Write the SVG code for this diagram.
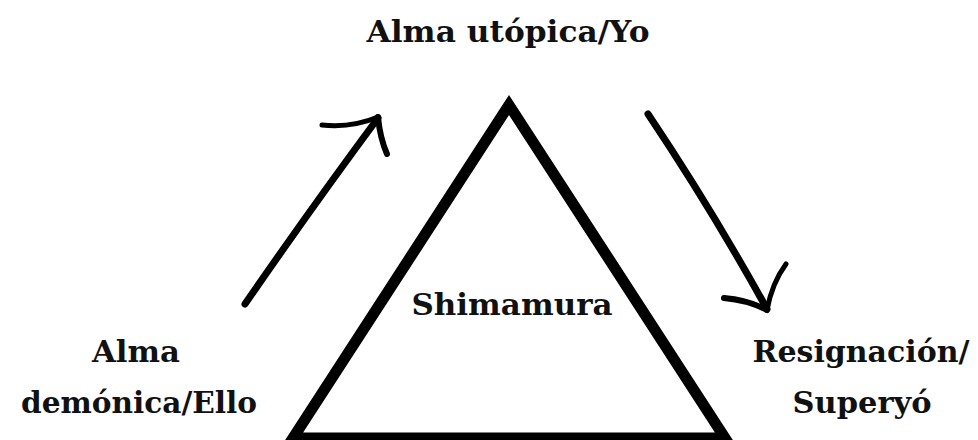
<svg xmlns="http://www.w3.org/2000/svg" width="978" height="440" viewBox="0 0 978 440">
<style>
.lbl{font-family:"DejaVu Serif","Liberation Serif",serif;font-weight:bold;font-size:30px;fill:#111;text-anchor:middle}
.tri{fill:#fff;stroke:#000;stroke-width:11;stroke-linejoin:miter}
.brush{fill:none;stroke:#000;stroke-linecap:round;stroke-linejoin:round}
</style>
<rect width="978" height="440" fill="#fff"/>
<g id="node-shimamura">
<polygon class="tri" points="509,105 293,438 725,438"/>
<text class="lbl" x="512" y="315" textLength="201" lengthAdjust="spacingAndGlyphs">Shimamura</text>
</g>
<g id="node-yo">
<text class="lbl" x="508" y="42" textLength="283" lengthAdjust="spacingAndGlyphs">Alma utópica/Yo</text>
</g>
<g id="node-ello">
<text class="lbl" x="136" y="362" textLength="88" lengthAdjust="spacingAndGlyphs">Alma</text>
<text class="lbl" x="139" y="413" textLength="236" lengthAdjust="spacingAndGlyphs">demónica/Ello</text>
</g>
<g id="node-superyo">
<text class="lbl" x="861" y="362" textLength="217" lengthAdjust="spacingAndGlyphs">Resignación/</text>
<text class="lbl" x="862" y="413" textLength="139" lengthAdjust="spacingAndGlyphs">Superyó</text>
</g>
<g id="connectors">
<path class="brush" stroke-width="7" d="M245,304 Q312,207 378,118"/>
<path class="brush" stroke-width="5" d="M322,125 Q352,128 378,117"/>
<path class="brush" stroke-width="6" d="M378,117 Q380,138 387,154"/>
<path class="brush" stroke-width="7" d="M648,114 Q711,208 767,309"/>
<path class="brush" stroke-width="6" d="M724,298 Q748,300 767,310"/>
<path class="brush" stroke-width="5" d="M767,310 Q772,283 786,264"/>
</g>
</svg>
